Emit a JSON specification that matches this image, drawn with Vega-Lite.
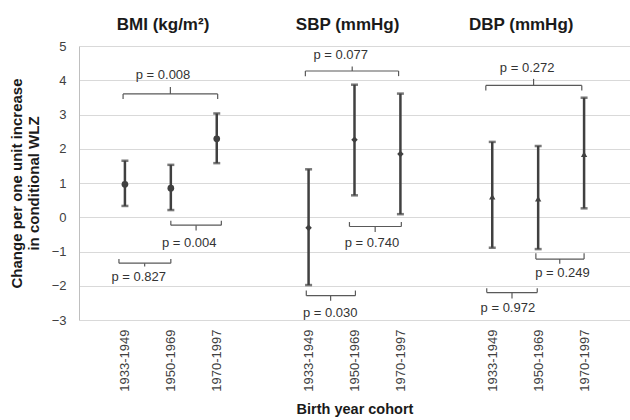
{
  "$schema": "https://vega.github.io/schema/vega-lite/v6.json",
  "width": 551,
  "height": 274,
  "autosize": "none",
  "padding": {"left": 79, "top": 46, "right": 0, "bottom": 100},
  "config": {
    "font": "Liberation Sans",
    "view": {"stroke": null},
    "axis": {"labelFont": "Liberation Sans", "titleFont": "Liberation Sans"}
  },
  "datasets": {
    "pts": [
      {"measure": "BMI", "cohort": "1933-1949", "pos": 1, "est": 0.96, "lo": 0.33, "hi": 1.65},
      {"measure": "BMI", "cohort": "1950-1969", "pos": 2, "est": 0.85, "lo": 0.21, "hi": 1.53},
      {"measure": "BMI", "cohort": "1970-1997", "pos": 3, "est": 2.29, "lo": 1.58, "hi": 3.03},
      {"measure": "SBP", "cohort": "1933-1949", "pos": 5, "est": -0.31, "lo": -1.98, "hi": 1.4},
      {"measure": "SBP", "cohort": "1950-1969", "pos": 6, "est": 2.26, "lo": 0.64, "hi": 3.87},
      {"measure": "SBP", "cohort": "1970-1997", "pos": 7, "est": 1.85, "lo": 0.09, "hi": 3.61},
      {"measure": "DBP", "cohort": "1933-1949", "pos": 9, "est": 0.6, "lo": -0.89, "hi": 2.2},
      {"measure": "DBP", "cohort": "1950-1969", "pos": 10, "est": 0.54, "lo": -0.93, "hi": 2.08},
      {"measure": "DBP", "cohort": "1970-1997", "pos": 11, "est": 1.84, "lo": 0.26, "hi": 3.49}
    ],
    "brackets": [
      {"label": "p = 0.008", "x1": 0.96, "x2": 3.02, "xm": 1.99, "y": 3.6, "yend": 3.45, "ytick": 3.8, "tx": 1.83, "ty": 4.15},
      {"label": "p = 0.004", "x1": 2.0, "x2": 3.1, "xm": 2.55, "y": -0.23, "yend": -0.1, "ytick": -0.39, "tx": 2.4, "ty": -0.75},
      {"label": "p = 0.827", "x1": 0.87, "x2": 2.0, "xm": 1.43, "y": -1.34, "yend": -1.22, "ytick": -1.44, "tx": 1.3, "ty": -1.75},
      {"label": "p = 0.077", "x1": 4.93, "x2": 6.96, "xm": 5.95, "y": 4.27, "yend": 4.12, "ytick": 4.4, "tx": 5.7, "ty": 4.74},
      {"label": "p = 0.740", "x1": 5.89, "x2": 7.02, "xm": 6.45, "y": -0.27, "yend": -0.14, "ytick": -0.43, "tx": 6.38, "ty": -0.74},
      {"label": "p = 0.030", "x1": 4.95, "x2": 6.02, "xm": 5.48, "y": -2.29, "yend": -2.14, "ytick": -2.44, "tx": 5.47, "ty": -2.8},
      {"label": "p = 0.272", "x1": 8.86, "x2": 10.95, "xm": 9.9, "y": 3.85, "yend": 3.7, "ytick": 4.04, "tx": 9.76, "ty": 4.37},
      {"label": "p = 0.249", "x1": 9.95, "x2": 11.0, "xm": 10.47, "y": -1.22, "yend": -1.05, "ytick": -1.36, "tx": 10.53, "ty": -1.64},
      {"label": "p = 0.972", "x1": 8.88, "x2": 9.98, "xm": 9.43, "y": -2.2, "yend": -2.07, "ytick": -2.37, "tx": 9.34, "ty": -2.66}
    ],
    "titles": [
      {"label": "BMI (kg/m²)", "tx": 1.83, "ty": 5.62},
      {"label": "SBP (mmHg)", "tx": 5.85, "ty": 5.62},
      {"label": "DBP (mmHg)", "tx": 9.63, "ty": 5.62}
    ]
  },
  "layer": [
    {
      "data": {"name": "pts"},
      "mark": {"type": "rule", "color": "#404040", "strokeWidth": 2.5},
      "encoding": {
        "x": {
          "field": "pos", "type": "quantitative",
          "scale": {"domain": [0, 12], "nice": false, "zero": false},
          "axis": {
            "values": [1, 2, 3, 5, 6, 7, 9, 10, 11],
            "labelExpr": "datum.value % 4 == 1 ? '1933-1949' : (datum.value % 4 == 2 ? '1950-1969' : '1970-1997')",
            "labelAngle": -90, "labelFontSize": 13, "labelColor": "#404040", "labelPadding": 9, "labelOverlap": false,
            "ticks": false, "domain": false, "grid": false,
            "title": "Birth year cohort", "titleFontSize": 14.5, "titleFontWeight": "bold", "titleColor": "#1a1a1a", "titlePadding": 11
          }
        },
        "y": {
          "field": "lo", "type": "quantitative",
          "scale": {"domain": [-3, 5], "nice": false, "zero": false},
          "axis": {
            "values": [-3, -2, -1, 0, 1, 2, 3, 4, 5],
            "tickCount": 9, "labelOverlap": false,
            "labelFontSize": 13, "labelColor": "#404040", "labelPadding": 13,
            "ticks": false, "domain": true, "domainColor": "#bfbfbf",
            "grid": true, "gridColor": "#d9d9d9",
            "title": ["Change per one unit increase", "in conditional WLZ"],
            "titleFontSize": 15, "titleFontWeight": "bold", "titleColor": "#1a1a1a", "titlePadding": 10
          }
        },
        "y2": {"field": "hi"}
      }
    },
    {
      "data": {"name": "pts"},
      "mark": {"type": "tick", "orient": "horizontal", "color": "#404040", "size": 7, "thickness": 2.5},
      "encoding": {
        "x": {"field": "pos", "type": "quantitative"},
        "y": {"field": "lo", "type": "quantitative"}
      }
    },
    {
      "data": {"name": "pts"},
      "mark": {"type": "tick", "orient": "horizontal", "color": "#404040", "size": 7, "thickness": 2.5},
      "encoding": {
        "x": {"field": "pos", "type": "quantitative"},
        "y": {"field": "hi", "type": "quantitative"}
      }
    },
    {
      "data": {"name": "pts"},
      "mark": {"type": "point", "filled": true, "opacity": 1, "color": "#404040"},
      "encoding": {
        "x": {"field": "pos", "type": "quantitative"},
        "y": {"field": "est", "type": "quantitative"},
        "shape": {"field": "measure", "type": "nominal", "scale": {"domain": ["BMI", "SBP", "DBP"], "range": ["circle", "diamond", "triangle-up"]}, "legend": null},
        "size": {"field": "measure", "type": "nominal", "scale": {"domain": ["BMI", "SBP", "DBP"], "range": [45, 40, 40]}, "legend": null}
      }
    },
    {
      "data": {"name": "brackets"},
      "mark": {"type": "rule", "color": "#595959", "strokeWidth": 1.2},
      "encoding": {
        "x": {"field": "x1", "type": "quantitative"},
        "x2": {"field": "x2"},
        "y": {"field": "y", "type": "quantitative"}
      }
    },
    {
      "data": {"name": "brackets"},
      "mark": {"type": "rule", "color": "#595959", "strokeWidth": 1.2},
      "encoding": {
        "x": {"field": "x1", "type": "quantitative"},
        "y": {"field": "y", "type": "quantitative"},
        "y2": {"field": "yend"}
      }
    },
    {
      "data": {"name": "brackets"},
      "mark": {"type": "rule", "color": "#595959", "strokeWidth": 1.2},
      "encoding": {
        "x": {"field": "x2", "type": "quantitative"},
        "y": {"field": "y", "type": "quantitative"},
        "y2": {"field": "yend"}
      }
    },
    {
      "data": {"name": "brackets"},
      "mark": {"type": "rule", "color": "#595959", "strokeWidth": 1.2},
      "encoding": {
        "x": {"field": "xm", "type": "quantitative"},
        "y": {"field": "y", "type": "quantitative"},
        "y2": {"field": "ytick"}
      }
    },
    {
      "data": {"name": "brackets"},
      "mark": {"type": "text", "fontSize": 13, "color": "#333333", "baseline": "middle", "align": "center"},
      "encoding": {
        "x": {"field": "tx", "type": "quantitative"},
        "y": {"field": "ty", "type": "quantitative"},
        "text": {"field": "label"}
      }
    },
    {
      "data": {"name": "titles"},
      "mark": {"type": "text", "fontSize": 17, "fontWeight": "bold", "color": "#1a1a1a", "baseline": "middle", "align": "center"},
      "encoding": {
        "x": {"field": "tx", "type": "quantitative"},
        "y": {"field": "ty", "type": "quantitative"},
        "text": {"field": "label"}
      }
    }
  ]
}
